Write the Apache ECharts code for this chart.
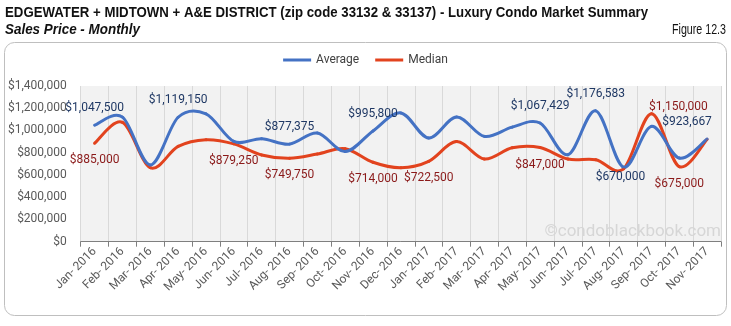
<!DOCTYPE html>
<html>
<head>
<meta charset="utf-8">
<script src="https://cdn.jsdelivr.net/npm/echarts@6/dist/echarts.min.js"></script>
<style>
html,body{margin:0;padding:0;background:#fff;}
#c{width:731px;height:326px;}
</style>
</head>
<body>
<div id="c"></div>
<script>
var categories = ["Jan- 2016","Feb- 2016","Mar- 2016","Apr- 2016","May- 2016","Jun- 2016","Jul- 2016","Aug- 2016","Sep- 2016","Oct- 2016","Nov- 2016","Dec- 2016","Jan- 2017","Feb- 2017","Mar- 2017","Apr- 2017","May- 2017","Jun- 2017","Jul- 2017","Aug- 2017","Sep- 2017","Oct- 2017","Nov- 2017"];
var average = [1047500,1120000,690000,1119150,1150000,902000,926000,877375,977000,810000,995800,1158000,932000,1122000,947000,1030000,1067429,782000,1176583,670000,1037000,752000,923667];
var median = [885000,1073000,665000,857000,917000,879250,780000,749750,788000,836000,714000,665000,722500,900000,743000,845000,847000,743000,737000,655000,1150000,675000,920000];
var yTicks = [0,200000,400000,600000,800000,1000000,1200000,1400000];
var avgLabelIdx = [0,3,7,10,16,18,19,22];
var medLabelIdx = [0,5,7,10,12,16,20,21];

var AVG_COLOR = '#4472c4', MED_COLOR = '#e2431e';
var fmt = function(v){ return '$' + Math.round(v).toLocaleString('en-US'); };

// label placement (style, not data)
var avgLabelStyle = {19:{position:'bottom',distance:3,offset:[-3,0]},22:{position:'top',distance:10,offset:[-20,0]}};
var medLabelStyle = {20:{position:'top',distance:0,offset:[27,0]}};

function buildLabelData(values, idxs, styles, color, defPos){
  return values.map(function(v,i){
    if(idxs.indexOf(i) < 0) return {value:v, label:{show:false}};
    var s = styles[i] || {};
    return {value:v, label:{show:true, position:s.position||defPos, distance:(s.distance!==undefined?s.distance:10), offset:s.offset||[0,0], color:color, fontFamily:'Roboto', fontSize:12, formatter:function(p){return fmt(p.value);}}};
  });
}

// Excel-like (Catmull-Rom) smoothed line drawn through the axes' coordinate system
function smoothRenderer(values, color){
  return function(params, api){
    var pts = values.map(function(v,i){ return api.coord([i, v]); });
    var n = pts.length, children = [];
    for(var i=0;i<n-1;i++){
      var p0 = pts[Math.max(i-1,0)], p1 = pts[i], p2 = pts[i+1], p3 = pts[Math.min(i+2,n-1)];
      children.push({type:'bezierCurve', shape:{
        x1:p1[0], y1:p1[1], x2:p2[0], y2:p2[1],
        cpx1:p1[0]+(p2[0]-p0[0])/6, cpy1:p1[1]+(p2[1]-p0[1])/6,
        cpx2:p2[0]-(p3[0]-p1[0])/6, cpy2:p2[1]-(p3[1]-p1[1])/6
      }, style:{fill:null, stroke:color, lineWidth:3, lineCap:'round'}});
    }
    return {type:'group', children:children};
  };
}

function fitText(text, font, target){
  var ctx = document.createElement('canvas').getContext('2d');
  ctx.font = font;
  return target / ctx.measureText(text).width;
}

var TITLE = 'EDGEWATER + MIDTOWN + A&E DISTRICT (zip code 33132 & 33137) - Luxury Condo Market Summary';
var SUB = 'Sales Price - Monthly';
var FIG = 'Figure 12.3';
var fTitle = 'bold 15px "Liberation Sans"';
var fSub = 'italic bold 14px "Liberation Sans"';
var fFig = '14px "Liberation Sans"';

var chart = echarts.init(document.getElementById('c'), null, {renderer:'canvas'});
chart.setOption({
  animation:false,
  backgroundColor:'#ffffff',
  graphic:[
    {type:'rect', shape:{x:4.5,y:42.5,width:722,height:273,r:10}, style:{fill:'none',stroke:'#bfbfbf',lineWidth:1}, z:-10},
    {type:'text', x:5, y:5, scaleX:fitText(TITLE,fTitle,643), style:{text:TITLE, font:fTitle, fill:'#111', verticalAlign:'top'}},
    {type:'text', x:5, y:23, scaleX:fitText(SUB,fSub,135), style:{text:SUB, font:fSub, fill:'#111', verticalAlign:'top'}},
    {type:'text', x:672, y:23, scaleX:fitText(FIG,fFig,54), style:{text:FIG, font:fFig, fill:'#111', verticalAlign:'top'}},
    {type:'text', right:10, top:223, style:{text:'\u00A9condoblackbook.com', font:'17px Roboto', fill:'#d6d6d6'}, z:1}
  ],
  legend:{
    top:49, left:'center',
    icon:'rect', itemWidth:28, itemHeight:3, itemGap:16,
    textStyle:{fontFamily:'Roboto', fontSize:12, color:'#404040'},
    data:[{name:'Average', itemStyle:{color:AVG_COLOR}},{name:'Median', itemStyle:{color:MED_COLOR}}]
  },
  grid:{left:80.7, right:10, top:86, bottom:84.3, show:true, backgroundColor:'#f2f2f2', borderWidth:0},
  xAxis:{
    type:'category', data:categories, boundaryGap:true,
    axisLine:{lineStyle:{color:'#7f7f7f',width:1}},
    axisTick:{show:true, length:5, lineStyle:{color:'#7f7f7f'}},
    axisLabel:{rotate:45, interval:0, margin:8, fontFamily:'Roboto', fontSize:12, color:'#595959'},
    splitLine:{show:true, interval:0, lineStyle:{color:'#d9d9d9',width:1}}
  },
  yAxis:{
    type:'value', min:yTicks[0], max:yTicks[yTicks.length-1], interval:yTicks[1]-yTicks[0],
    axisLine:{show:false}, axisTick:{show:false}, splitLine:{show:false},
    axisLabel:{margin:14, fontFamily:'Roboto', fontSize:12, color:'#595959', formatter:function(v){return fmt(v);}}
  },
  series:[
    {name:'Median', type:'custom', color:MED_COLOR, renderItem:smoothRenderer(median, MED_COLOR), data:[[0, median[0]]], z:2, silent:true},
    {name:'Average', type:'custom', color:AVG_COLOR, renderItem:smoothRenderer(average, AVG_COLOR), data:[[0, average[0]]], z:3, silent:true},
    {name:'avgLabels', type:'line', symbol:'circle', symbolSize:2, itemStyle:{color:AVG_COLOR}, lineStyle:{opacity:0},
     data:buildLabelData(average, avgLabelIdx, avgLabelStyle, '#1f3864', 'top'), z:5, silent:true},
    {name:'medLabels', type:'line', symbol:'circle', symbolSize:2, itemStyle:{color:MED_COLOR}, lineStyle:{opacity:0},
     data:buildLabelData(median, medLabelIdx, medLabelStyle, '#8b1a1a', 'bottom'), z:4, silent:true}
  ]
});
</script>
</body>
</html>
